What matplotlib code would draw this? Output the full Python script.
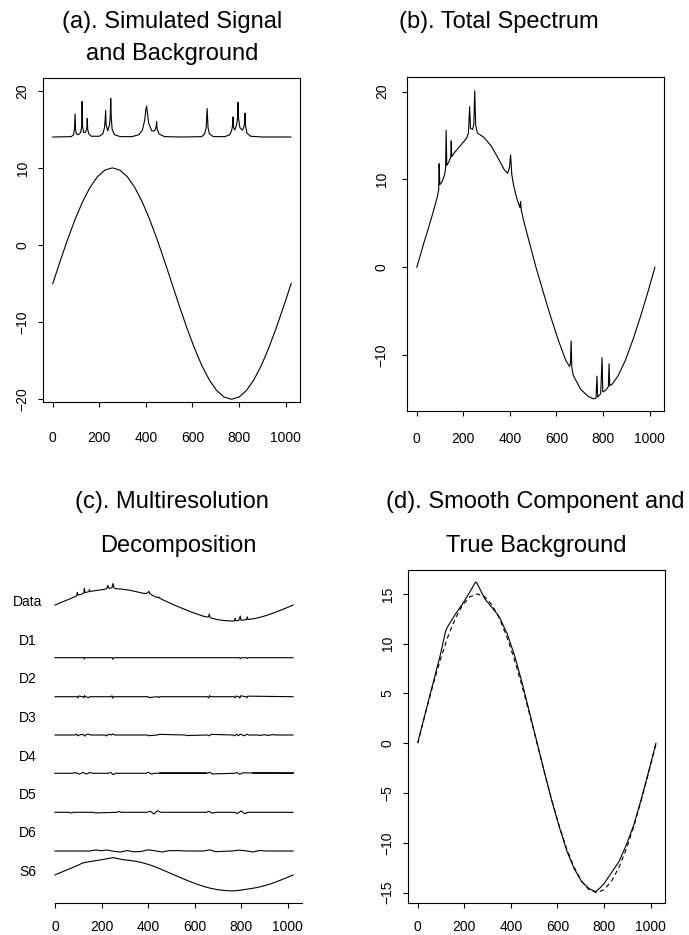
import matplotlib
matplotlib.use('Agg')
import matplotlib.pyplot as plt
import numpy as np

plt.rcParams['font.family'] = ['Liberation Sans', 'DejaVu Sans']

# ---------------- data ----------------
# true background, sampled every 32 points
bg_x = list(range(0, 1025, 32))
bg_y = [0.0, 2.93, 5.74, 8.33, 10.61, 12.47, 13.86, 14.71, 15.0, 14.71, 13.86, 12.47,
        10.61, 8.33, 5.74, 2.93, 0.0, -2.93, -5.74, -8.33, -10.61, -12.47, -13.86,
        -14.71, -15.0, -14.71, -13.86, -12.47, -10.61, -8.33, -5.74, -2.93, 0.0]

# simulated signal (height above its baseline)
sig_x = [0, 80, 89, 93, 96, 98, 102, 110, 120, 124, 126, 128, 132, 140, 146, 148, 150,
         155, 165, 200, 215, 222, 225, 227, 229, 236, 244, 247, 249, 251, 255, 265, 290,
         340, 370, 385, 395, 400, 403, 406, 412, 425, 438, 444, 446, 448, 456, 480, 560,
         640, 652, 659, 663, 667, 673, 690, 740, 760, 768, 772, 774, 776, 782, 790, 794,
         796, 798, 804, 815, 822, 824, 826, 828, 834, 850, 900, 1023]
sig_y = [0, 0.05, 0.3, 0.9, 3.0, 0.9, 0.4, 0.3, 0.6, 1.4, 4.6, 1.4, 0.6, 0.6, 1.0, 2.4, 1.0,
         0.4, 0.1, 0.1, 0.4, 1.2, 2.2, 3.4, 1.6, 0.8, 1.6, 2.8, 5.0, 2.6, 1.0, 0.3, 0.05,
         0.05, 0.3, 0.9, 2.2, 3.6, 4.0, 3.3, 1.8, 0.8, 0.8, 1.3, 2.0, 1.1, 0.4, 0.05, 0.0,
         0.05, 0.4, 1.2, 3.7, 1.2, 0.4, 0.05, 0.05, 0.3, 0.8, 1.4, 2.6, 1.3, 0.9, 1.6, 2.6,
         4.5, 2.4, 1.2, 0.9, 1.4, 2.0, 3.1, 1.5, 0.5, 0.1, 0.0, 0.0]

# total spectrum
tot_x = [0, 32, 64, 88, 94, 96, 99, 110, 120, 124, 126, 129, 138, 146, 148, 150, 160, 192,
         214, 222, 227, 231, 240, 245, 249, 253, 260, 288, 320, 352, 376, 390, 398, 403,
         408, 416, 430, 443, 446, 449, 462, 480, 512, 544, 576, 608, 640, 656, 660, 663,
         666, 672, 704, 736, 760, 770, 774, 777, 790, 796, 799, 812, 823, 826, 829, 840,
         864, 896, 928, 960, 992, 1023]
tot_y = [0, 2.9, 5.7, 8.0, 8.8, 11.8, 9.4, 9.8, 10.6, 11.4, 15.6, 11.6, 12.0, 12.6, 14.4,
         12.6, 13.0, 14.0, 14.7, 15.3, 18.3, 15.8, 15.7, 16.3, 20.1, 16.2, 15.3, 14.8, 13.8,
         12.3, 11.1, 10.7, 11.3, 12.8, 10.6, 9.3, 7.8, 6.8, 7.5, 6.5, 5.0, 3.2, 0.0, -2.9,
         -5.7, -8.3, -10.6, -11.3, -11.0, -8.4, -11.4, -12.3, -13.9, -14.7, -15.0, -14.9,
         -12.4, -14.8, -14.4, -10.3, -14.2, -14.0, -13.6, -11.0, -13.5, -13.3, -12.4, -10.6,
         -8.3, -5.7, -2.9, 0.0]

# smooth component S6
sm_x = [0, 32, 64, 96, 120, 128, 160, 192, 224, 248, 256, 288, 320, 344, 352, 384, 416,
        448, 480, 512, 544, 576, 608, 640, 672, 704, 736, 764, 784, 800, 832, 864, 896,
        928, 960, 992, 1023]
sm_y = [0.1, 3.0, 5.9, 8.8, 11.3, 11.7, 12.9, 14.0, 15.2, 16.2, 16.0, 14.5, 13.6, 12.9,
        12.6, 11.0, 8.8, 6.1, 3.1, 0.1, -2.9, -5.8, -8.4, -10.8, -12.6, -13.9, -14.6,
        -14.9, -14.5, -14.1, -13.0, -11.9, -10.2, -8.2, -5.6, -2.8, 0.0]

# detail components D1..D6
d1_x = [0, 124, 126, 128, 246, 249, 252, 792, 796, 800, 822, 826, 830, 1023]
d1_y = [0, 0, -1.2, 0, 0, -1.5, 0, 0, -1.0, 0, 0, -0.8, 0, 0]
d2_x = [0, 95, 98, 101, 120, 124, 127, 130, 146, 150, 240, 245, 248, 251, 400, 404, 440,
        446, 450, 655, 660, 664, 668, 770, 774, 778, 790, 794, 798, 820, 824, 828, 1023]
d2_y = [0, 0, -1.2, 0.6, 0, -1.0, 1.0, 0, -0.8, 0, 0, 0.8, -1.4, 0, 0, -0.8, 0, -0.8, 0,
        0, -1.2, 1.0, 0, 0, -1.0, 0.6, 0, -1.4, 0.8, 0, -1.0, 0.5, 0]
d3_x = [0, 85, 92, 98, 104, 120, 128, 136, 146, 152, 215, 222, 230, 240, 248, 256, 395,
        402, 440, 448, 560, 566, 655, 662, 670, 765, 772, 780, 788, 796, 804, 815, 823,
        831, 870, 880, 900, 915, 935, 950, 1023]
d3_y = [0, 0, 0.8, -0.8, 0, 0.6, -1.0, 0.6, 0.7, 0, 0, -0.9, 0.8, 0, 1.0, 0, 0, -0.7, 0,
        0.6, 0, -0.5, 0, -0.8, 0.6, 0, -0.8, 0.7, -0.6, 0.8, 0, -0.7, 0.8, 0, 0, -0.4,
        0.3, -0.4, 0.3, 0, 0]
d4_x = [0, 70, 90, 105, 120, 135, 150, 165, 225, 240, 250, 262, 390, 402, 414, 426, 655,
        665, 675, 770, 782, 794, 806, 1023]
d4_y = [0, 0, 0.6, -0.8, 0.8, -0.7, 0.7, 0, 0, 0.7, -1.2, 0, 0, 1.0, -0.8, 0, 0, 1.0,
        -0.6, 0, 0.7, -0.9, 0.4, 0]
d5_x = [0, 60, 70, 80, 165, 175, 265, 275, 285, 395, 410, 425, 440, 455, 650, 662, 675,
        690, 770, 785, 800, 815, 830, 1023]
d5_y = [0, 0, -0.7, 0, 0, -0.6, 0, 0.7, 0, 0, 1.0, -1.6, 1.5, 0, 0, 0.9, -0.8, 0, 0,
        -1.0, 1.3, -1.3, 0, 0]
d6_x = [0, 150, 175, 200, 225, 250, 280, 310, 340, 370, 400, 430, 460, 490, 530, 560,
        640, 665, 690, 760, 790, 820, 850, 880, 905, 1023]
d6_y = [0, 0, 1.0, 0.3, 0.9, -0.2, -1.0, 0.4, -0.8, -0.4, 1.1, 0.2, -0.9, 0.3, 0.4, 0,
        0, 1.1, -0.6, 0, 0.8, 0.2, -0.9, 0.5, 0, 0]

row_labels = ['Data', 'D1', 'D2', 'D3', 'D4', 'D5', 'D6', 'S6']
x_ticks = [0, 200, 400, 600, 800, 1000]

# ---------------- layout ----------------
W, H = 689, 935
fig = plt.figure(figsize=(W / 100, H / 100), dpi=100)
LW = 0.8
XLIM = (-42, 1062)


def box(l, t, r, b):
    return [l / W, 1 - b / H, (r - l) / W, (b - t) / H]


def style(ax, yticks, ylim, xpad, ypad):
    ax.set_xlim(*XLIM)
    ax.set_ylim(*ylim)
    ax.set_xticks(x_ticks)
    ax.set_yticks(yticks)
    for s in ax.spines.values():
        s.set_linewidth(0.8)
    ax.tick_params(length=3.6, width=0.8, labelsize=10, color='black')
    ax.tick_params(axis='x', pad=xpad)
    ax.tick_params(axis='y', pad=ypad, labelrotation=90)
    for t in ax.get_yticklabels():
        t.set_verticalalignment('center')


# (a)
axa = fig.add_axes(box(43, 78, 300, 402))
axa.plot(sig_x, np.array(sig_y) + 14, color='black', lw=LW)
axa.plot(bg_x, np.array(bg_y) - 5, color='black', lw=LW)
style(axa, [-20, -10, 0, 10, 20], (-20.35, 21.65), 17, 6)

# (b)
axb = fig.add_axes(box(407, 77, 664, 410.7))
axb.plot(tot_x, tot_y, color='black', lw=LW)
style(axb, [-10, 0, 10, 20], (-16.34, 21.67), 11.7, 9.5)

# (d)
axd = fig.add_axes(box(408, 570, 665, 903.3))
axd.plot(sm_x, sm_y, color='black', lw=LW)
axd.plot(bg_x, bg_y, color='black', lw=LW, ls=(0, (4, 3)))
style(axd, [-15, -10, -5, 0, 5, 10, 15], (-16.07, 17.4), 8.5, 6)

# (c) multiresolution decomposition, y in pixel units
axc = fig.add_axes(box(45.2, 560, 302.2, 903.3))
axc.set_xlim(*XLIM)
axc.set_ylim(903.3, 560)
SC = 1.07
row_base = [605, 657.7, 696.7, 735, 773.3, 812.3, 851, 875]
row_label_y = [601.7, 640.7, 679, 717.7, 756.7, 795, 833, 872.3]
series = [(tot_x, tot_y), (d1_x, d1_y), (d2_x, d2_y), (d3_x, d3_y), (d4_x, d4_y),
          (d5_x, d5_y), (d6_x, d6_y), (sm_x, sm_y)]
for (xs, ys), base in zip(series, row_base):
    axc.plot(xs, base - SC * np.array(ys), color='black', lw=LW, clip_on=False)
# denser fine-scale activity in D4
axc.plot([450, 650], [row_base[4]] * 2, color='black', lw=1.2)
axc.plot([850, 1023], [row_base[4]] * 2, color='black', lw=1.2)
for s in ['left', 'right', 'top']:
    axc.spines[s].set_visible(False)
axc.spines['bottom'].set_linewidth(0.8)
axc.spines['bottom'].set_bounds(0, 1060)
axc.set_xticks(x_ticks)
axc.set_yticks([])
axc.tick_params(length=3.6, width=0.8, labelsize=10, pad=8.5)
axc.patch.set_visible(False)
for lab, y in zip(row_labels, row_label_y):
    fig.text(28 / W, 1 - y / H, lab, ha='center', va='center', fontsize=10)

# titles
TFS = 17
titles = [("(a). Simulated Signal", 172, 22), ("and Background", 172, 54),
          ("(b). Total Spectrum", 499, 22),
          ("(c). Multiresolution", 172, 502), ("Decomposition", 178, 546),
          ("(d). Smooth Component and", 535, 502), ("True Background", 536, 546)]
for txt, x, y in titles:
    fig.text(x / W, 1 - y / H, txt, ha='center', va='center', fontsize=TFS)

fig.savefig('out.png', dpi=100)
